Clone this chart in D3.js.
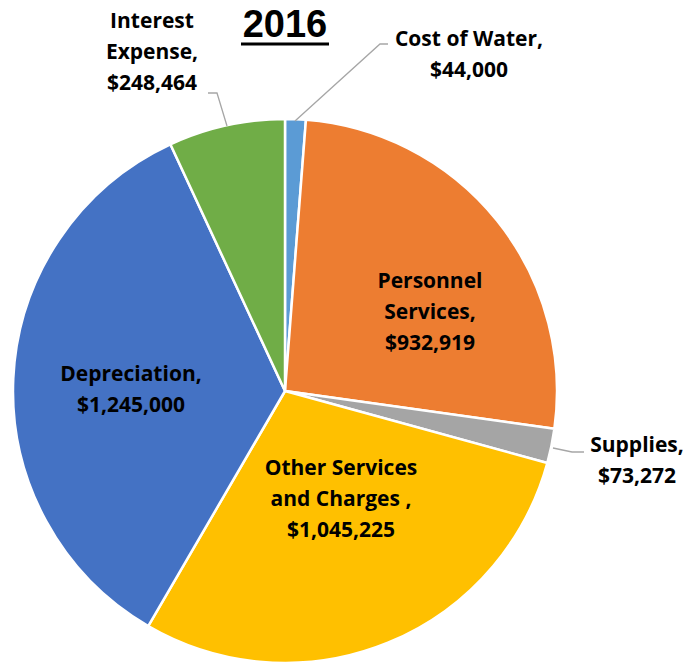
<!DOCTYPE html>
<html>
<head>
<meta charset="utf-8">
<title>2016</title>
<style>
body { margin:0; background:white; }
#chart { width:690px; height:666px; }
</style>
<script src="https://d3js.org/d3.v7.min.js"></script>
</head>
<body>
<div id="chart"></div>
<script>
var width = 690;
var height = 666;
var cx = 285, cy = 391; // pie center
var radius = 272;

// data
var categories = ["Cost of Water", "Personnel Services", "Supplies", "Other Services and Charges ", "Depreciation", "Interest Expense"];
var values = [44000, 932919, 73272, 1045225, 1245000, 248464];
var colors = ["#5B9BD5", "#ED7D31", "#A5A5A5", "#FFC000", "#4472C4", "#70AD47"];

// label lines and spots (annotation layout)
var labelLines = [
  ["Cost of Water,", "$44,000"],
  ["Personnel", "Services,", "$932,919"],
  ["Supplies,", "$73,272"],
  ["Other Services", "and Charges ,", "$1,045,225"],
  ["Depreciation,", "$1,245,000"],
  ["Interest", "Expense,", "$248,464"]
];
var labelPos = [[469, 46], [430, 288], [637, 452], [341, 475], [131, 381], [152, 28]];
var leaders = [
  [[388, 44], [380, 44], [295, 121]],
  null,
  [[584, 452], [572, 452], [553, 448]],
  null,
  null,
  [[208, 93], [217, 93], [227, 126]]
];

var svg = d3.select("#chart").append("svg")
  .attr("width", width)
  .attr("height", height);

var pie = d3.pie().sort(null).value(function(d) { return d; });
var arc = d3.arc().innerRadius(0).outerRadius(radius);

var g = svg.append("g").attr("transform", "translate(" + cx + "," + cy + ")");

g.selectAll("path")
  .data(pie(values))
  .enter().append("path")
  .attr("d", arc)
  .attr("fill", function(d, i) { return colors[i]; })
  .attr("stroke", "white")
  .attr("stroke-width", 2.5)
  .attr("stroke-linejoin", "round");

// leader lines
var line = d3.line();
leaders.forEach(function(l) {
  if (!l) return;
  svg.append("path")
    .attr("d", line(l))
    .attr("fill", "none")
    .attr("stroke", "#A6A6A6")
    .attr("stroke-width", 1.3);
});

// labels
labelLines.forEach(function(lines, i) {
  var t = svg.append("text")
    .attr("x", labelPos[i][0])
    .attr("y", labelPos[i][1])
    .attr("text-anchor", "middle")
    .attr("font-family", "'Open Sans', sans-serif")
    .attr("font-weight", "bold")
    .attr("font-size", 21)
    .attr("fill", "#000");
  lines.forEach(function(s, j) {
    t.append("tspan")
      .attr("x", labelPos[i][0])
      .attr("dy", j == 0 ? 0 : 31)
      .text(s);
  });
});

// title
svg.append("text")
  .attr("x", 285)
  .attr("y", 37)
  .attr("text-anchor", "middle")
  .attr("font-family", "'Liberation Sans', Arial, sans-serif")
  .attr("font-weight", "bold")
  .attr("font-size", 38)
  .text("2016");
svg.append("line")
  .attr("x1", 241).attr("x2", 329)
  .attr("y1", 44).attr("y2", 44)
  .attr("stroke", "black")
  .attr("stroke-width", 3);
</script>
</body>
</html>
